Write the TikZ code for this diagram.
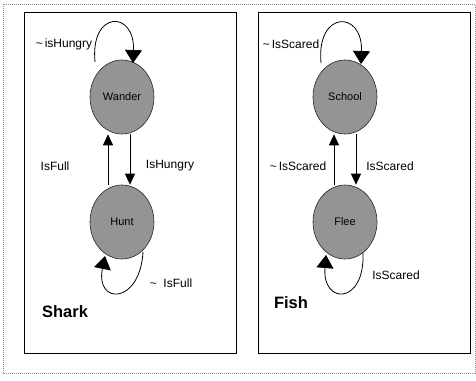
\documentclass[tikz,border=0pt]{standalone}
\usepackage{fontspec}
\setmainfont{Liberation Sans}
\usetikzlibrary{shapes.geometric,arrows.meta}
\tikzset{
  statenode/.style={ellipse, draw=black!85, line width=0.6pt, fill=black!42,
    minimum width=64pt, minimum height=74pt, inner sep=0pt,
    font=\fontsize{11}{13}\selectfont, text=black},
  trans/.style={line width=0.8pt, -{Triangle[length=11pt,width=10pt]}},
  selfloop/.style={line width=0.8pt, -{Triangle[length=13pt,width=17pt]}},
  lbl/.style={font=\fontsize{12}{14}\selectfont, inner sep=0pt},
  ttl/.style={font=\bfseries\fontsize{16.5}{18}\selectfont, inner sep=0pt},
  panel/.style={draw=black, line width=1pt},
  outerframe/.style={draw=black!45, densely dotted, line width=1pt}
}
\begin{document}
\begin{tikzpicture}[x=1pt,y=1pt]
\useasboundingbox (0,0) rectangle (476,-380);
\draw[outerframe] (3,-4) rectangle (475,-373);
\draw[panel] (24,-12) rectangle (236,-353);
\draw[panel] (258,-12) rectangle (470,-353);

% Shark
\node[statenode] (W) at (122,-97) {Wander};
\node[statenode] (H) at (122,-222) {Hunt};
\draw[trans] ([xshift=8pt]W.south) -- ([xshift=8pt]H.north);
\draw[trans] ([xshift=-14pt]H.north) -- ([xshift=-14pt]W.south);
\coordinate (wa) at ([shift={(-27,35)}]W.center);
\coordinate (wb) at ([shift={(11,34)}]W.center);
\draw[selfloop] (wa) .. controls (90,-10) and (135,-10) .. (wb);
\coordinate (ha) at ([shift={(21,-30)}]H.center);
\coordinate (hb) at ([shift={(-17,-34)}]H.center);
\draw[selfloop] (ha) .. controls (140,-305) and (95,-305) .. (hb);
\node[lbl] (l1) at (64,-44) {\textasciitilde\,isHungry};
\node[lbl] (l2) at (55,-166) {IsFull};
\node[lbl] (l3) at (170,-166) {IsHungry};
\node[lbl] (l4) at (171,-283) {\textasciitilde\ \ IsFull};
\node[ttl] (t1) at (65,-312) {Shark};

% Fish
\node[statenode] (S) at (345,-97) {School};
\node[statenode] (F) at (345,-222) {Flee};
\draw[trans] ([xshift=11pt]S.south) -- ([xshift=11pt]F.north);
\draw[trans] ([xshift=-11pt]F.north) -- ([xshift=-11pt]S.south);
\coordinate (sa) at ([shift={(-24,34)}]S.center);
\coordinate (sb) at ([shift={(16,33)}]S.center);
\draw[selfloop] (sa) .. controls (316,-10) and (363,-10) .. (sb);
\coordinate (fa) at ([shift={(18,-31)}]F.center);
\coordinate (fb) at ([shift={(-19,-33)}]F.center);
\draw[selfloop] (fa) .. controls (365,-305) and (322,-305) .. (fb);
\node[lbl] (l5) at (291,-44) {\textasciitilde\,IsScared};
\node[lbl] (l6) at (298,-166) {\textasciitilde\,IsScared};
\node[lbl] (l7) at (390,-166) {IsScared};
\node[lbl] (l8) at (396,-275) {IsScared};
\node[ttl] (t2) at (291,-303) {Fish};
\end{tikzpicture}
\end{document}
